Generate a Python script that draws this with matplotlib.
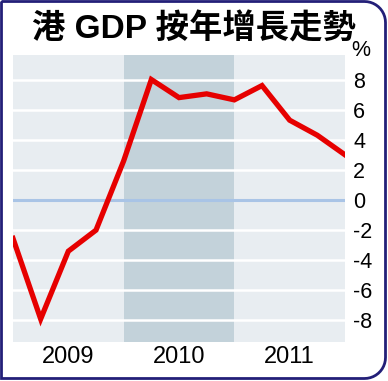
import numpy as np
import matplotlib
matplotlib.use('Agg')
import matplotlib.pyplot as plt
from matplotlib.path import Path
from matplotlib.patches import PathPatch

# quarterly yoy growth, 2008 Q4 .. 2011 Q4
growth = [-2.55, -7.9, -3.4, -2.0, 2.6, 8.0, 6.8, 7.05, 6.65, 7.6, 5.3, 4.3, 3.0]
years = ['2009', '2010', '2011']
year_pos = [2, 6, 10]
shade_span = (4, 8)
yticks = [-8, -6, -4, -2, 0, 2, 4, 6, 8]

title = '港 GDP 按年增長走勢'

plt.rcParams['font.family'] = ['Liberation Sans', 'DejaVu Sans']

W, H = 388, 381
fig = plt.figure(figsize=(W / 100., H / 100.), dpi=100)
fig.patch.set_facecolor('white')

ax = fig.add_axes([13. / W, 1 - 342. / H, 332. / W, 287. / H])
ax.set_facecolor('#e8edf1')
x = np.arange(len(growth))

ax.axvspan(shade_span[0], shade_span[1], color='#c3d2da', zorder=0, lw=0)
for t in yticks:
    if t == 0:
        ax.axhline(t, color='#a9c4e6', lw=2.2, zorder=1)
    else:
        ax.axhline(t, color='white', lw=1.8, zorder=1)

ax.plot(x, growth, color='#e60000', lw=3.8, solid_joinstyle='miter', zorder=3)

ax.set_xlim(0, 12)
ax.set_ylim(-9.43, 9.63)
ax.yaxis.tick_right()
ax.set_yticks(yticks)
ax.set_yticklabels([str(t) for t in yticks], fontsize=15.5, ha='left')
ax.tick_params(axis='y', length=0, pad=6)
ax.set_xticks(year_pos)
ax.set_xticklabels(years, fontsize=17)
ax.tick_params(axis='x', length=0, pad=3)
for s in ax.spines.values():
    s.set_visible(False)

fig.text(351. / W, 1 - 50. / H, '%', fontsize=15.5, ha='left', va='center')
fig.text(194. / W, 1 - 29. / H, title, fontsize=24, fontweight='bold',
         ha='center', va='center', family=['Liberation Sans', 'Noto Sans CJK TC'])

# frame: square left corners, rounded right corners
r = 21.
x0, x1, y0, y1 = 1.5, 385.5, 1.5, 378.5
pts = [(x0, y0), (x1 - r, y0)]
for a in np.linspace(-np.pi / 2, 0, 12)[1:]:
    pts.append((x1 - r + r * np.cos(a), y0 + r + r * np.sin(a)))
pts.append((x1, y1 - r))
for a in np.linspace(0, np.pi / 2, 12)[1:]:
    pts.append((x1 - r + r * np.cos(a), y1 - r + r * np.sin(a)))
pts.append((x0, y1))
pts.append((x0, y0))
pts = [(px / W, 1 - py / H) for px, py in pts]
frame = PathPatch(Path(pts), transform=fig.transFigure, fill=False,
                  edgecolor='#231f78', lw=2.0)
fig.patches.append(frame)

fig.savefig('out.png', dpi=100)
